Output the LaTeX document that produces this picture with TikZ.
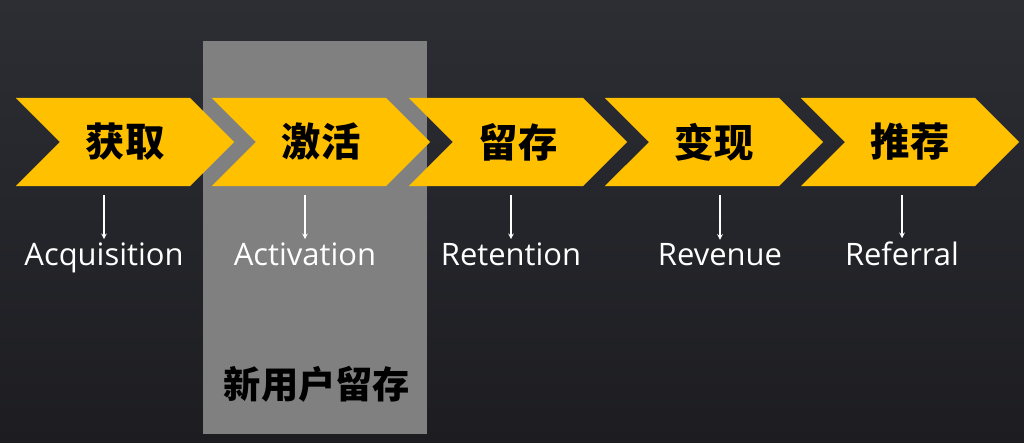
\documentclass[tikz,border=0pt]{standalone}
\usepackage{fontspec}
\setmainfont{Open Sans}
\newfontfamily\cjk{Noto Sans CJK SC}
\usetikzlibrary{shapes.symbols}
\definecolor{gold}{HTML}{FFC000}
\definecolor{stage}{HTML}{808080}
\definecolor{bgtop}{HTML}{2C2E34}
\definecolor{bgbot}{HTML}{1D1D21}

\begin{document}
\begin{tikzpicture}[x=0.025cm,y=-0.025cm,shorten <=0.22cm,>=stealth]
    \tikzstyle{chevron}=[signal,signal from=west,signal to=east,signal pointer angle=90,fill=gold,
        minimum width=5.45cm,minimum height=2.2cm,inner sep=0pt,font=\cjk\bfseries\fontsize{28}{30}\selectfont]
    \tikzstyle{word}=[text=white,inner sep=2pt,anchor=base,font=\fontsize{22}{26}\selectfont]
    \shade[top color=bgtop,bottom color=bgbot] (0,0) rectangle (1024,442);
    \fill[stage] (203,41) rectangle (427,434);
    \node[text=black,font=\cjk\bfseries\fontsize{26.5}{30}\selectfont] (new) at (317,384) {新用户留存};

    \foreach \num/\x/\lx/\cn/\en in {1/125/104/获取/Acquisition, 2/321/305/激活/Activation,
            3/518/511/留存/Retention, 4/714/720/变现/Revenue, 5/910/902/推荐/Referral}
    {
        \node[chevron] (C-\num) at (\x,142) {\cn};
        \node[word] (L-\num) at (\lx,265) {\en};
        \draw[white,line width=0.8pt,->] (C-\num.south -| L-\num.north) -- (L-\num.north);
    }
\end{tikzpicture}
\end{document}
